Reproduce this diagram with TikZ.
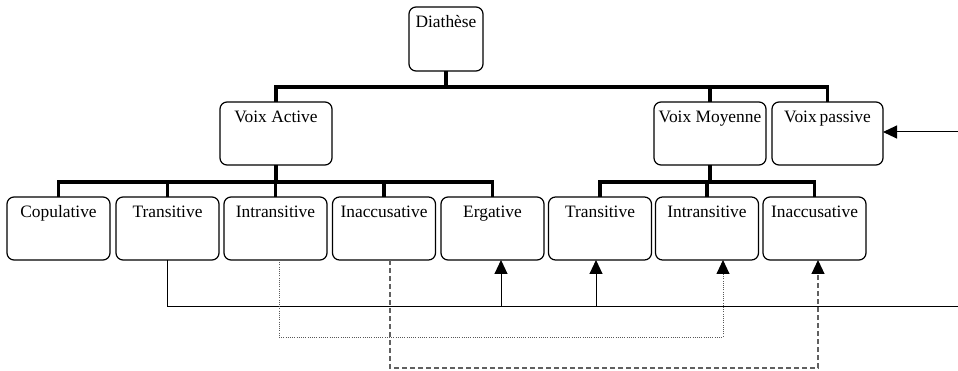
\documentclass[tikz,border=0pt]{standalone}
\usepackage{fontspec}
\setmainfont{Liberation Serif}
\usetikzlibrary{arrows.meta}
\begin{document}
\begin{tikzpicture}[x=1pt,y=-1pt,
  box/.style={draw, line width=1.2pt, rounded corners=7pt, anchor=north,
    inner xsep=1pt, inner ysep=0pt, outer sep=0pt,
    text height=21pt, text depth=42pt, minimum width=103pt,
    font=\fontsize{17.4}{20}\selectfont},
  wide/.style={minimum width=112pt},
  bar/.style={line width=3.2pt},
  link/.style={line width=1pt},
  headed/.style={-{Triangle[width=13pt,length=14pt,color=black,fill=black]}},
  dotline/.style={line width=0.9pt, dash pattern=on 1pt off 1.2pt, gray!70!black},
  dashline/.style={line width=1.1pt, dash pattern=on 5pt off 3pt, gray!75!black}
]
\useasboundingbox (0,0) rectangle (958,371);

% tree boxes
\node[box, minimum width=74pt, text depth=43pt] (dia) at (446,7) {Diathèse};
\node[box, wide] (va) at (276,102) {Voix Active};
\node[box, wide] (vm) at (710,102) {Voix Moyenne};
\node[box, minimum width=111pt] (vp) at (827.5,102) {Voix\,passive};

\node[box] (cop) at (58.5,197) {Copulative};
\node[box] (tra) at (167.5,197) {Transitive};
\node[box] (int) at (275.5,197) {Intransitive};
\node[box] (ina) at (384,197) {Inaccusative};
\node[box] (erg) at (492.5,197) {Ergative};
\node[box] (trb) at (600,197) {Transitive};
\node[box] (inb) at (707,197) {Intransitive};
\node[box] (inc) at (814.5,197) {Inaccusative};

% first level
\draw[bar] (dia.south) -- ++(0,16);
\draw[bar] (va.north) -- ++(0,-15) -| (vp.north);
\draw[bar] (vm.north) -- ++(0,-15);

% active voice branches
\draw[bar] (va.south) -- ++(0,16);
\draw[bar] (cop.north) -- ++(0,-15) -| (erg.north);
\draw[bar] (tra.north) -- ++(0,-15);
\draw[bar] (int.north) -- ++(0,-15);
\draw[bar] (ina.north) -- ++(0,-15);

% middle voice branches
\draw[bar] (vm.south) -- ++(0,16);
\draw[bar] (trb.north) -- ++(0,-15) -| (inc.north);
\draw[bar] (inb.north) -- ++(0,-15);

% relations between verb classes
\coordinate (rail) at (958,306);
\coordinate (railtop) at (958,132);
\coordinate (ergin) at ([xshift=8.5]erg.south);
\coordinate (trbin) at ([xshift=-4]trb.south);

\draw[link] (tra.south) |- (rail);
\draw[link,headed] (ergin |- rail) -- (ergin);
\draw[link,headed] (trbin |- rail) -- (trbin);
\draw[link,headed] (railtop) -- (railtop -| vp.east);

\draw[dotline,headed] ([xshift=3.5]int.south) -- ++(0,77) -| ([xshift=16]inb.south);
\draw[dashline,headed] ([xshift=6]ina.south) -- ++(0,108) -| ([xshift=3.5]inc.south);
\end{tikzpicture}
\end{document}
